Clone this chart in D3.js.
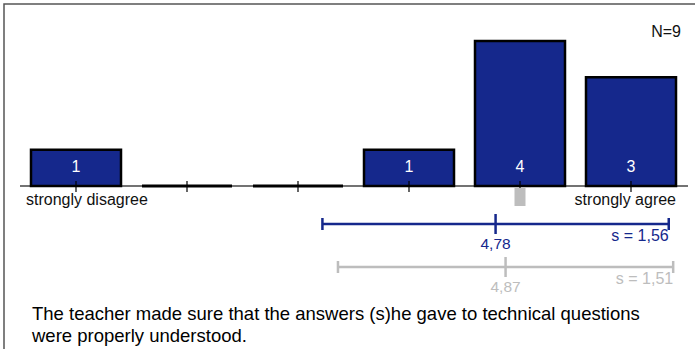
<!DOCTYPE html>
<html>
<head>
<meta charset="utf-8">
<script src="https://cdn.jsdelivr.net/npm/d3@7"></script>
<style>
  body { margin: 0; background: #fff; }
  svg { font-family: "Liberation Sans", Arial, sans-serif; }
</style>
</head>
<body>
<div class="chart"></div>
<script>
var categories = [1, 2, 3, 4, 5, 6];
var counts = [1, 0, 0, 1, 4, 3];
var endLabels = ["strongly disagree", "strongly agree"];
var nLabel = "N=9";
var mainStats = { mean: 4.78, sd: 1.56, meanLabel: "4,78", sdLabel: "s = 1,56" };
var compStats = { mean: 4.87, sd: 1.51, meanLabel: "4,87", sdLabel: "s = 1,51" };
var medianMark = 5;
var titleLines = [
  "The teacher made sure that the answers (s)he gave to technical questions",
  "were properly understood."
];

var width = 695;
var height = 349;
var blue = "#15288c";
var gray = "#bdbdbd";
var barWidth = 90;
var base = 186;

var x = d3.scaleLinear().domain([1, 6]).range([76, 631]);
var y = d3.scaleLinear().domain([0, 4]).range([base, 41]);

var svg = d3
  .select(".chart")
  .append("svg")
  .attr("width", width)
  .attr("height", height);

// frame
svg.append("path")
  .attr("d", "M4,349 L4,4 L695,4")
  .attr("fill", "none")
  .attr("stroke", "#555")
  .attr("stroke-width", 1.5);

// axis line
svg.append("line")
  .attr("x1", 20).attr("x2", 688)
  .attr("y1", base).attr("y2", base)
  .attr("stroke", "#444")
  .attr("stroke-width", 1.5);

// bars
svg.selectAll("rect.bar")
  .data(categories.filter(function(d, i) { return counts[i] > 0; }))
  .enter()
  .append("rect")
  .attr("class", "bar")
  .attr("x", function(d) { return x(d) - barWidth / 2; })
  .attr("y", function(d) { return y(counts[categories.indexOf(d)]); })
  .attr("width", barWidth)
  .attr("height", function(d) { return base - y(counts[categories.indexOf(d)]); })
  .attr("fill", blue)
  .attr("stroke", "#000")
  .attr("stroke-width", 2.5);

// empty categories: just the outline
svg.selectAll("line.zero")
  .data(categories.filter(function(d, i) { return counts[i] === 0; }))
  .enter()
  .append("line")
  .attr("class", "zero")
  .attr("x1", function(d) { return x(d) - barWidth / 2; })
  .attr("x2", function(d) { return x(d) + barWidth / 2; })
  .attr("y1", base)
  .attr("y2", base)
  .attr("stroke", "#000")
  .attr("stroke-width", 3);

// ticks
svg.selectAll("line.tick")
  .data(categories)
  .enter()
  .append("line")
  .attr("class", "tick")
  .attr("x1", function(d) { return x(d); })
  .attr("x2", function(d) { return x(d); })
  .attr("y1", base - 5)
  .attr("y2", base + 6)
  .attr("stroke", "#000")
  .attr("stroke-width", 1.2);

// bar value labels
svg.selectAll("text.val")
  .data(categories.filter(function(d, i) { return counts[i] > 0; }))
  .enter()
  .append("text")
  .attr("class", "val")
  .attr("x", function(d) { return x(d); })
  .attr("y", 172)
  .attr("text-anchor", "middle")
  .attr("fill", "#fff")
  .attr("font-size", 16)
  .text(function(d) { return counts[categories.indexOf(d)]; });

// median marker
svg.append("rect")
  .attr("x", x(medianMark) - 5.5)
  .attr("y", base + 2)
  .attr("width", 11)
  .attr("height", 18)
  .attr("fill", gray);

// end labels
svg.append("text")
  .attr("x", 26).attr("y", 205)
  .attr("font-size", 16)
  .attr("fill", "#111")
  .text(endLabels[0]);
svg.append("text")
  .attr("x", 676).attr("y", 205)
  .attr("text-anchor", "end")
  .attr("font-size", 16)
  .attr("fill", "#111")
  .text(endLabels[1]);

svg.append("text")
  .attr("x", 681).attr("y", 37)
  .attr("text-anchor", "end")
  .attr("font-size", 16)
  .attr("fill", "#111")
  .text(nLabel);

function drawStats(s, ly, color, meanY, sdY) {
  var g = svg.append("g").attr("stroke", color);
  var x0 = x(s.mean - s.sd), x1 = x(s.mean + s.sd), xm = x(s.mean);
  g.append("line").attr("x1", x0).attr("x2", x1).attr("y1", ly).attr("y2", ly).attr("stroke-width", 2.5);
  g.append("line").attr("x1", x0).attr("x2", x0).attr("y1", ly - 6).attr("y2", ly + 6).attr("stroke-width", 2.5);
  g.append("line").attr("x1", x1).attr("x2", x1).attr("y1", ly - 6).attr("y2", ly + 6).attr("stroke-width", 2.5);
  g.append("line").attr("x1", xm).attr("x2", xm).attr("y1", ly - 10).attr("y2", ly + 10).attr("stroke-width", 2.5);
  svg.append("text")
    .attr("x", xm).attr("y", meanY)
    .attr("text-anchor", "middle")
    .attr("font-size", 15.5)
    .attr("fill", color)
    .text(s.meanLabel);
  svg.append("text")
    .attr("x", x1).attr("y", sdY)
    .attr("text-anchor", "end")
    .attr("font-size", 16)
    .attr("fill", color)
    .text(s.sdLabel);
}

drawStats(mainStats, 224, blue, 249, 241);
drawStats(compStats, 267, gray, 292, 284);

svg.selectAll("text.title")
  .data(titleLines)
  .enter()
  .append("text")
  .attr("class", "title")
  .attr("x", 32)
  .attr("y", function(d, i) { return 320 + i * 22; })
  .attr("font-size", 18.5)
  .attr("fill", "#000")
  .text(function(d) { return d; });
</script>
</body>
</html>
